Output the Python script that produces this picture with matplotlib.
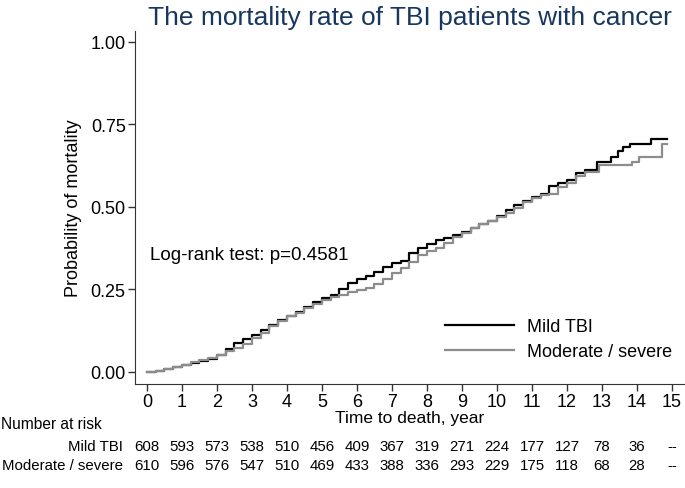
import matplotlib
matplotlib.use('Agg')
import matplotlib.pyplot as plt
import matplotlib.transforms as mtransforms

plt.rcParams['font.family'] = ['Liberation Sans', 'DejaVu Sans']

# cumulative mortality (step curves)
mild_t = [0, 0.25, 0.5, 0.75, 1.0, 1.25, 1.5, 1.75, 2.0, 2.25, 2.5, 2.75, 3.0, 3.25, 3.5, 3.75,
          4.0, 4.25, 4.5, 4.75, 5.0, 5.25, 5.5, 5.75, 6.0, 6.25, 6.5, 6.75, 7.0, 7.25, 7.5, 7.75,
          8.0, 8.25, 8.5, 8.75, 9.0, 9.25, 9.5, 9.75, 10.0, 10.25, 10.5, 10.75, 11.0, 11.25, 11.5,
          11.75, 12.0, 12.25, 12.5, 12.85, 13.25, 13.45, 13.6, 13.8, 14.4, 14.85]
mild_p = [0, 0.003, 0.008, 0.014, 0.020, 0.026, 0.033, 0.040, 0.050, 0.070, 0.087, 0.100, 0.113,
          0.127, 0.142, 0.158, 0.170, 0.182, 0.198, 0.211, 0.223, 0.233, 0.250, 0.271, 0.281, 0.291,
          0.302, 0.318, 0.330, 0.337, 0.360, 0.375, 0.388, 0.399, 0.406, 0.414, 0.424, 0.437, 0.447,
          0.457, 0.473, 0.490, 0.506, 0.519, 0.530, 0.540, 0.562, 0.572, 0.580, 0.604, 0.612, 0.635,
          0.650, 0.670, 0.680, 0.691, 0.707, 0.707]

mod_t = [0, 0.25, 0.5, 0.75, 1.0, 1.25, 1.5, 1.75, 2.0, 2.25, 2.5, 2.75, 3.0, 3.25, 3.5, 3.75,
         4.0, 4.25, 4.5, 4.75, 5.0, 5.25, 5.5, 5.75, 6.0, 6.25, 6.5, 6.75, 7.0, 7.25, 7.5, 7.75,
         8.0, 8.25, 8.5, 8.75, 9.0, 9.25, 9.5, 9.75, 10.0, 10.25, 10.5, 10.75, 11.0, 11.25, 11.5,
         11.75, 12.0, 12.25, 12.5, 12.9, 13.85, 14.05, 14.7, 14.85]
mod_p = [0, 0.004, 0.009, 0.016, 0.022, 0.030, 0.036, 0.042, 0.050, 0.064, 0.074, 0.085, 0.103,
         0.117, 0.138, 0.155, 0.170, 0.180, 0.193, 0.205, 0.218, 0.228, 0.234, 0.241, 0.247, 0.255,
         0.266, 0.282, 0.300, 0.316, 0.333, 0.353, 0.365, 0.375, 0.392, 0.408, 0.420, 0.437, 0.447,
         0.456, 0.470, 0.483, 0.496, 0.514, 0.527, 0.535, 0.540, 0.560, 0.572, 0.594, 0.607, 0.626,
         0.637, 0.650, 0.691, 0.691]

years = list(range(16))
risk_mild = ['608', '593', '573', '538', '510', '456', '409', '367', '319', '271', '224', '177',
             '127', '78', '36', '--']
risk_mod = ['610', '596', '576', '547', '510', '469', '433', '388', '336', '293', '229', '175',
            '118', '68', '28', '--']
yticks = [0, 0.25, 0.5, 0.75, 1.0]

fig = plt.figure(figsize=(6.85, 4.89), dpi=100)
ax = fig.add_axes([0.197, 0.2127, 0.803, 0.722])

ax.plot(mild_t, mild_p, drawstyle='steps-post', color='black', lw=1.6, label='Mild TBI')
ax.plot(mod_t, mod_p, drawstyle='steps-post', color='#8c8c8c', lw=1.6, label='Moderate / severe')

ax.set_xlim(-0.34, 15.37)
ax.set_ylim(-0.0364, 1.033)
ax.set_xticks(years)
ax.set_yticks(yticks)
ax.set_yticklabels(['%.2f' % v for v in yticks])
ax.tick_params(direction='out', length=4.7, width=1, color='#333333', labelsize=13, pad=2)
for s in ['top', 'right']:
    ax.spines[s].set_visible(False)
for s in ['left', 'bottom']:
    ax.spines[s].set_color('#333333')

ax.set_xlabel('Time to death, year', fontsize=12.5, labelpad=0)
ax.set_ylabel('Probability of mortality', fontsize=13, labelpad=6)
ax.set_title('The mortality rate of TBI patients with cancer', fontsize=19, color='#17375e', pad=5)

ax.text(0.08, 0.357, 'Log-rank test: p=0.4581', fontsize=13.5, va='center', ha='left')

ax.legend(loc='lower right', bbox_to_anchor=(0.976, 0.068), frameon=False, fontsize=13,
          handlelength=3.8, handletextpad=0.7, labelspacing=0.45, borderpad=0, borderaxespad=0)

# number at risk table
trans = mtransforms.blended_transform_factory(ax.transData, fig.transFigure)
fig.text(0.002, 0.131, 'Number at risk', fontsize=11.2, va='center', ha='left')
fig.text(0.18, 0.086, 'Mild TBI', fontsize=10.8, va='center', ha='right')
fig.text(0.18, 0.047, 'Moderate / severe', fontsize=10.8, va='center', ha='right')
for x, a, b in zip(years, risk_mild, risk_mod):
    ax.text(x, 0.086, a, transform=trans, fontsize=10.8, va='center', ha='center', clip_on=False)
    ax.text(x, 0.047, b, transform=trans, fontsize=10.8, va='center', ha='center', clip_on=False)

fig.savefig('out.png', dpi=100)
